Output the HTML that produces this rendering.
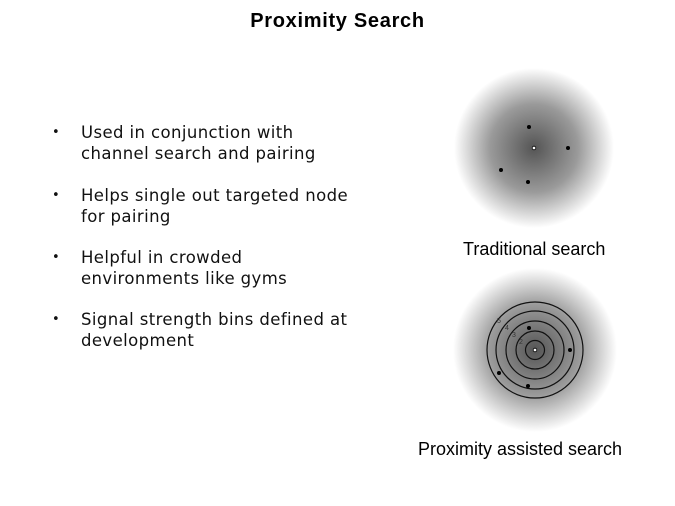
<!DOCTYPE html>
<html><head><style>
body{margin:0;width:675px;height:506px;background:#fff;position:relative;overflow:hidden;font-family:"DejaVu Sans",sans-serif;}
.t{position:absolute;left:0;width:675px;top:10px;text-align:center;font:bold 20px "Liberation Sans",sans-serif;letter-spacing:0.7px;}
.b{position:absolute;left:81px;font-size:16.5px;letter-spacing:0.4px;line-height:21px;color:#111;}
.b:before{content:"•";position:absolute;left:-29px;font-size:13px;}
.l{position:absolute;font:18px "Liberation Sans",sans-serif;color:#000;}
</style></head><body>
<div class="t">Proximity Search</div>
<div class="b" style="top:122px">Used in conjunction with<br>channel search and pairing</div>
<div class="b" style="top:185px">Helps single out targeted node<br>for pairing</div>
<div class="b" style="top:247px">Helpful in crowded<br>environments like gyms</div>
<div class="b" style="top:309px">Signal strength bins defined at<br>development</div>
<div class="l" style="left:463px;top:239px">Traditional search</div>
<div class="l" style="left:418px;top:439px">Proximity assisted search</div>
<svg width="675" height="506" style="position:absolute;left:0;top:0">
<defs><radialGradient id="g"><stop offset="0" stop-color="#555"/><stop offset="0.55" stop-color="#9a9a9a"/><stop offset="1" stop-color="#fff"/></radialGradient></defs>
<circle cx="534" cy="148" r="80" fill="url(#g)"/>
<circle cx="535" cy="350" r="82" fill="url(#g)"/>
<g fill="#000"><circle cx="529" cy="127" r="2"/><circle cx="568" cy="148" r="2"/><circle cx="501" cy="170" r="2"/><circle cx="528" cy="182" r="2"/>
<circle cx="529" cy="328" r="2"/><circle cx="570" cy="350" r="2"/><circle cx="499" cy="373" r="2"/><circle cx="528" cy="386" r="2"/></g>
<g fill="none" stroke="#111" stroke-width="1.2"><circle cx="535" cy="350" r="48"/><circle cx="535" cy="350" r="39"/><circle cx="535" cy="350" r="29"/><circle cx="535" cy="350" r="19"/><circle cx="535" cy="350" r="9.5"/></g>
<circle cx="534" cy="148" r="1.8" fill="#fff" stroke="#000" stroke-width="0.8"/>
<circle cx="535" cy="350" r="1.8" fill="#fff" stroke="#000" stroke-width="0.8"/>
<g font-family="Liberation Sans" font-size="7" fill="#333"><text x="497" y="323">5</text><text x="505" y="330">4</text><text x="512" y="337">3</text><text x="519" y="344">2</text></g>
</svg>
</body></html>
